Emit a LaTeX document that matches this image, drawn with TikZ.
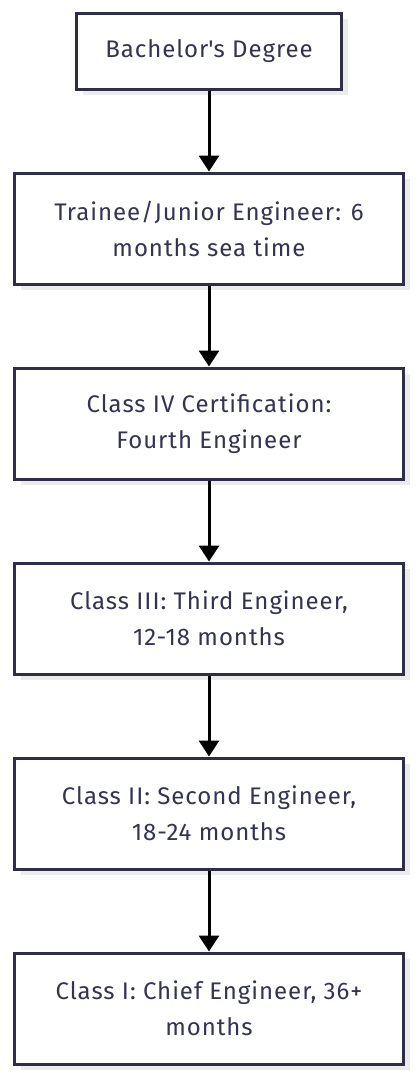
\documentclass[tikz,border=0pt]{standalone}
\usepackage{fontspec}
\setmainfont[LetterSpace=4]{Fira Sans}
\usetikzlibrary{positioning,arrows.meta,shadows}

\definecolor{boxline}{HTML}{2E2E48}
\definecolor{boxtext}{HTML}{333352}
\definecolor{boxshade}{HTML}{EBEBEB}

\tikzset{
  stage/.style={draw=boxline, line width=3pt, fill=white, text=boxtext,
    align=center, minimum width=389pt, minimum height=111pt,
    inner sep=0pt, font=\fontsize{24}{36}\selectfont,
    drop shadow={shadow xshift=6pt, shadow yshift=-6pt, fill=boxshade, opacity=1}},
  flow/.style={line width=3pt, -{Triangle[width=20pt,length=16pt]}}
}

\begin{document}
\begin{tikzpicture}[x=1pt,y=1pt,node distance=81pt]
\useasboundingbox (0,0) rectangle (418,-1080);
\node[stage, minimum width=265pt, minimum height=76pt] (degree) at (209,-51) {Bachelor\textquotesingle s Degree};
\node[stage, below=of degree] (junior) {Trainee/Junior Engineer: 6\\months sea time};
\node[stage, below=of junior] (fourth) {Class IV Certification:\\Fourth Engineer};
\node[stage, below=of fourth] (third) {Class III: Third Engineer,\\12-18 months};
\node[stage, below=of third] (second) {Class II: Second Engineer,\\18-24 months};
\node[stage, below=of second] (chief) {Class I: Chief Engineer, 36+\\months};
% arrows between stages
\draw[flow] (degree) -- (junior);
\draw[flow] (junior) -- (fourth);
\draw[flow] (fourth) -- (third);
\draw[flow] (third) -- (second);
\draw[flow] (second) -- (chief);
\end{tikzpicture}
\end{document}
